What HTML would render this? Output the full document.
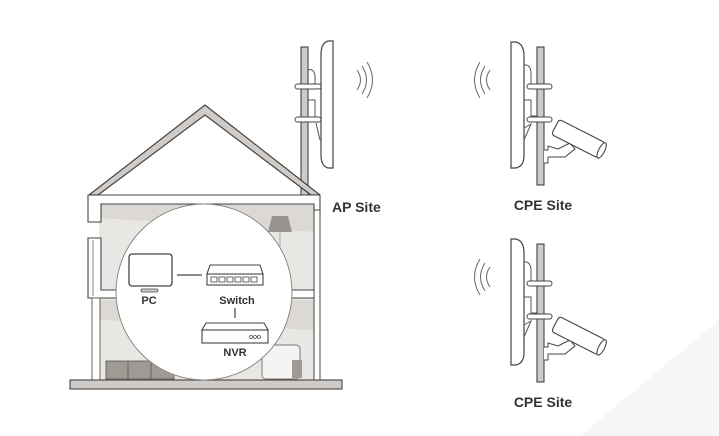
<!DOCTYPE html>
<html><head><meta charset="utf-8"><style>
html,body{margin:0;padding:0;background:#fff;}
svg{display:block}
text{font-family:"Liberation Sans",sans-serif;font-weight:bold;fill:#333;}
</style></head><body>
<svg width="719" height="436" viewBox="0 0 719 436" xmlns="http://www.w3.org/2000/svg">
<defs>
<g id="cpe">
  <path d="M511,42 L516,42 Q524,44 524,56 L524,156 Q524,166 516,168 L511,168 Z" fill="#fff" stroke="#444" stroke-width="1.2"/>
  <path d="M524,65 Q530,64 531,72 L531,86 L537,86 M524,100 L531,100 L531,116 L537,116 M524,128 L531,124 L524,140" fill="none" stroke="#555" stroke-width="1"/>
  <rect x="537" y="47" width="7" height="138" fill="#cfcac5" stroke="#444" stroke-width="1.1"/>
  <rect x="527" y="84" width="25" height="5" rx="2.5" fill="#fff" stroke="#444" stroke-width="1"/>
  <rect x="527" y="117" width="25" height="5" rx="2.5" fill="#fff" stroke="#444" stroke-width="1"/>
  <path d="M544,150 L548,150 L548,146 L558,149 L570,143 L575,149 L565,157 L548,157 L548,163 L544,163" fill="#fff" stroke="#444" stroke-width="1"/>
  <g transform="rotate(27 580 140)">
    <rect x="552" y="131" width="52" height="17" rx="3" fill="#fff" stroke="#444" stroke-width="1.1"/>
    <ellipse cx="604" cy="139.5" rx="3" ry="8.5" fill="#fff" stroke="#444" stroke-width="1.1"/>
  </g>
  <path d="M490,70 Q483,80 490,90 M485,66 Q476,80 485,94 M480,62 Q469,80 480,98" fill="none" stroke="#666" stroke-width="1"/>
</g>
</defs>
<rect width="719" height="436" fill="#fff"/>
<polygon points="580,436 719,320 719,436" fill="#f6f6f6"/>

<rect x="301" y="47" width="7" height="150" fill="#cfcac5" stroke="#444" stroke-width="1.1"/>
<path d="M308,70 Q314,68 315,76 L315,86 L321,86 M308,100 L315,100 L315,118 L321,118 M316,123 L320,140" fill="none" stroke="#555" stroke-width="1"/>
<path d="M333,41 L328,41 Q321,43 321,55 L321,155 Q321,166 328,168 L333,168 Z" fill="#fff" stroke="#444" stroke-width="1.2"/>
<rect x="295" y="84" width="26" height="5" rx="2.5" fill="#fff" stroke="#444" stroke-width="1"/>
<rect x="295" y="117" width="26" height="5" rx="2.5" fill="#fff" stroke="#444" stroke-width="1"/>
<path d="M357,70 Q364,80 357,90 M362,66 Q371,80 362,94 M367,62 Q378,80 367,98" fill="none" stroke="#666" stroke-width="1"/>

<rect x="99" y="204" width="217" height="176" fill="#e9e7e4"/>
<polygon points="100,204 316,204 316,232 100,218" fill="#dcd9d5"/>
<polygon points="100,300 316,300 316,330 100,320" fill="#dcd9d5"/>
<polygon points="272,216 288,216 292,232 268,232" fill="#999490"/>
<line x1="280" y1="232" x2="280" y2="300" stroke="#aaa" stroke-width="1"/>
<rect x="106" y="361" width="68" height="18" fill="#a09a94" stroke="#555" stroke-width="0.8"/>
<line x1="128" y1="361" x2="128" y2="379" stroke="#555" stroke-width="0.8"/>
<line x1="151" y1="361" x2="151" y2="379" stroke="#555" stroke-width="0.8"/>
<rect x="262" y="345" width="38" height="34" rx="4" fill="#f5f4f2" stroke="#777" stroke-width="1"/>
<rect x="292" y="360" width="10" height="18" fill="#a09a94"/>

<polygon points="89,195 205,105 320,195 311,195 205,115 98,195" fill="#d0cbc6" stroke="#444" stroke-width="1.2" stroke-linejoin="round"/>
<path d="M88,195 L320,195 L320,210 L314,210 L314,204 L101,204 L101,222 L88,222 Z" fill="#fff" stroke="#444" stroke-width="1.1"/>
<path d="M88,238 L101,238 L101,290 L316,290 L316,298 L88,298 Z" fill="#fff" stroke="#444" stroke-width="1.1"/>
<line x1="93" y1="240" x2="93" y2="296" stroke="#666" stroke-width="0.8"/>
<rect x="92" y="298" width="8" height="82" fill="#fff" stroke="#555" stroke-width="0.9"/>
<rect x="314" y="210" width="6" height="170" fill="#fff" stroke="#444" stroke-width="1"/>
<rect x="70" y="380" width="272" height="9" fill="#d0cbc6" stroke="#444" stroke-width="1.1"/>

<circle cx="204" cy="292" r="88" fill="#fff" stroke="#888" stroke-width="1"/>
<rect x="129" y="254" width="43" height="32" rx="3" fill="#fff" stroke="#444" stroke-width="1.3"/>
<rect x="141" y="289" width="17" height="3" rx="1.5" fill="#ccc" stroke="#444" stroke-width="0.8"/>
<line x1="177" y1="275" x2="202" y2="275" stroke="#444" stroke-width="1.2"/>
<polygon points="210,265 260,265 263,274 207,274" fill="#fff" stroke="#444" stroke-width="1.1"/>
<rect x="207" y="274" width="56" height="11" fill="#fff" stroke="#444" stroke-width="1.1"/>
<g fill="#fff" stroke="#444" stroke-width="0.8">
<rect x="211" y="277" width="6" height="5"/><rect x="219" y="277" width="6" height="5"/><rect x="227" y="277" width="6" height="5"/>
<rect x="235" y="277" width="6" height="5"/><rect x="243" y="277" width="6" height="5"/><rect x="251" y="277" width="6" height="5"/>
</g>
<line x1="235" y1="308" x2="235" y2="318" stroke="#444" stroke-width="1.2"/>
<polygon points="206,323 264,323 268,330 202,330" fill="#fff" stroke="#444" stroke-width="1.1"/>
<rect x="202" y="330" width="66" height="13" fill="#fff" stroke="#444" stroke-width="1.1"/>
<circle cx="251" cy="337" r="1.5" fill="none" stroke="#444" stroke-width="0.7"/>
<circle cx="255" cy="337" r="1.5" fill="none" stroke="#444" stroke-width="0.7"/>
<circle cx="259" cy="337" r="1.5" fill="none" stroke="#444" stroke-width="0.7"/>
<text x="149" y="304" font-size="11" text-anchor="middle">PC</text>
<text x="237" y="304" font-size="11" text-anchor="middle">Switch</text>
<text x="235" y="356" font-size="11" text-anchor="middle">NVR</text>

<text x="332" y="212" font-size="14">AP Site</text>

<use href="#cpe"/>
<use href="#cpe" transform="translate(0,197)"/>
<text x="543" y="210" font-size="14" text-anchor="middle">CPE Site</text>
<text x="543" y="407" font-size="14" text-anchor="middle">CPE Site</text>
</svg>
</body></html>
